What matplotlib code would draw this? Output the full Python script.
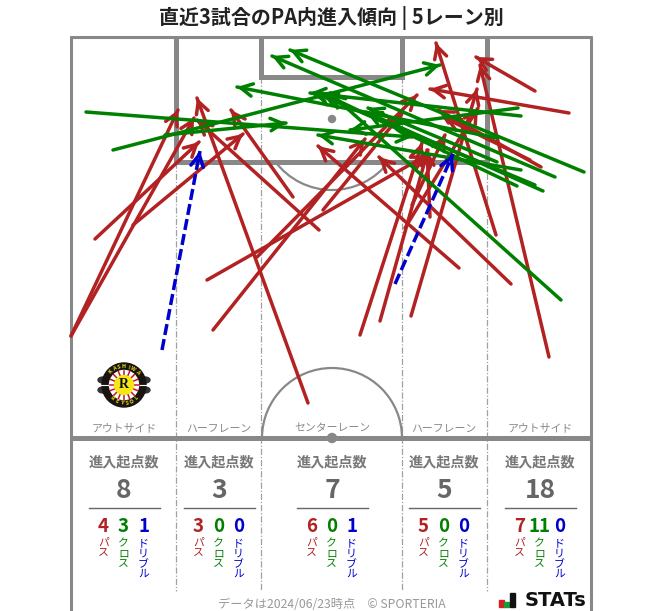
import numpy as np
import matplotlib
matplotlib.use("Agg")
import matplotlib.pyplot as plt
from matplotlib.patches import Arc, Circle, Ellipse, Rectangle

plt.rcParams["font.family"] = ["Noto Sans CJK JP", "DejaVu Sans"]

# arrows: start x, start y, end x, end y (in pixels)
PASS_ARROWS = [
    (71, 336, 178, 110), (71, 336, 194, 118), (95, 239, 199, 142), (133, 225, 243, 134),
    (207, 280, 427, 155), (213, 330, 365, 139), (257, 257, 417, 95),
    (308, 403, 197, 98), (319, 230, 197, 120), (293, 197, 231, 110), (323, 210, 403, 112),
    (360, 335, 422, 143), (380, 321, 428, 150),
    (411, 316, 477, 89), (459, 268, 318, 146), (430, 217, 427, 150), (405, 228, 478, 108),
    (412, 205, 445, 135),
    (549, 357, 480, 65), (535, 91, 476, 57), (569, 113, 430, 89), (496, 235, 436, 43),
    (541, 167, 438, 110), (511, 284, 379, 157), (530, 160, 445, 118),
]
CROSS_ARROWS = [
    (86, 112, 412, 137), (113, 150, 440, 65), (165, 135, 286, 123),
    (584, 172, 290, 50), (555, 177, 272, 56), (561, 300, 330, 93), (543, 191, 366, 112),
    (517, 186, 322, 93), (521, 170, 318, 135), (521, 116, 310, 93), (518, 108, 350, 130),
    (497, 162, 368, 108), (497, 138, 237, 87), (535, 185, 315, 93),
]
DRIBBLE_ARROWS = [(162, 350, 200, 151), (395, 284, 453, 154)]

ZONE_CENTERS = [124, 219, 332, 444, 540]
ZONE_NAMES = ["アウトサイド", "ハーフレーン", "センターレーン", "ハーフレーン", "アウトサイド"]
ZONE_TOTALS = [8, 3, 7, 5, 18]
ZONE_PASS = [4, 3, 6, 5, 7]
ZONE_CROSS = [3, 0, 0, 0, 11]
ZONE_DRIBBLE = [1, 0, 1, 0, 0]

RED = "#b22222"
GREEN = "#008000"
BLUE = "#0000cd"
GRAY = "#888888"

fig = plt.figure(figsize=(6.63, 6.11), dpi=100)
ax = fig.add_axes([0, 0, 1, 1])
ax.set_xlim(0, 663)
ax.set_ylim(611, 0)
ax.axis("off")


def draw_arrow(x0, y0, x1, y1, color, dashed=False):
    ax.plot([x0, x1], [y0, y1], color=color, lw=2.5, zorder=5,
            linestyle=(0, (3.2, 1.2)) if dashed else "-",
            solid_capstyle="round", dash_capstyle="butt")
    ax.annotate("", xy=(x1, y1), xytext=(x1 + (x0 - x1) * 0.02, y1 + (y0 - y1) * 0.02),
                arrowprops=dict(arrowstyle="->,head_length=0.85,head_width=0.45",
                                color=color, lw=2.5, shrinkA=0, shrinkB=0,
                                mutation_scale=10),
                zorder=5)


# pitch
pitch_line = dict(color=GRAY, zorder=2, solid_capstyle="butt")
ax.plot([71, 71], [36, 611], lw=2.2, **pitch_line)
ax.plot([591, 591], [36, 611], lw=2.2, **pitch_line)
ax.plot([70, 592], [37, 37], lw=2.2, **pitch_line)
ax.plot([71, 591], [438, 438], lw=3.6, **pitch_line)
ax.plot([176, 176, 487, 487], [37, 162, 162, 37], lw=3.6, solid_joinstyle="miter", **pitch_line)
ax.plot([261, 261, 402, 402], [37, 77, 77, 37], lw=3.6, solid_joinstyle="miter", **pitch_line)
ax.add_patch(Arc((332, 119), 142, 142, theta1=37, theta2=143, color=GRAY, lw=1.6, zorder=2))
ax.add_patch(Arc((332, 438), 140, 140, theta1=180, theta2=360, color=GRAY, lw=1.6, zorder=2))
ax.add_patch(Circle((332, 119), 3.5, color=GRAY, zorder=2))
ax.add_patch(Circle((332, 438), 4.5, color=GRAY, zorder=2))

# lanes
for x, top in zip([176, 261, 402, 487], [162, 77, 77, 162]):
    ax.plot([x, x], [top, 591], color="#a0a0a0", lw=0.9, linestyle=(0, (5, 1.5, 1, 1.5)), zorder=1)

for x0, y0, x1, y1 in PASS_ARROWS:
    draw_arrow(x0, y0, x1, y1, RED)
for x0, y0, x1, y1 in CROSS_ARROWS:
    draw_arrow(x0, y0, x1, y1, GREEN)
for x0, y0, x1, y1 in DRIBBLE_ARROWS:
    draw_arrow(x0, y0, x1, y1, BLUE, dashed=True)

ax.text(331, 18, "直近3試合のPA内進入傾向 | 5レーン別", ha="center", va="center",
        fontsize=14.4, fontweight="bold", color="#222222")

# zone stats
for i, cx in enumerate(ZONE_CENTERS):
    ax.text(cx, 428.5, ZONE_NAMES[i], ha="center", va="center", fontsize=7.8, color="#888888", zorder=6)
    ax.text(cx, 462, "進入起点数", ha="center", va="center", fontsize=10.2, fontweight="bold", color="#777777")
    ax.text(cx, 491, str(ZONE_TOTALS[i]), ha="center", va="center", fontsize=19, fontweight="bold", color="#666666")
    ax.plot([cx - 35.5, cx + 35.5], [508, 508], color="#666666", lw=1.0)
    columns = zip([-20.5, -0.5, 19.5], [ZONE_PASS[i], ZONE_CROSS[i], ZONE_DRIBBLE[i]],
                  [RED, GREEN, BLUE], ["パス", "クロス", "ドリブル"])
    for dx, value, color, word in columns:
        ax.text(cx + dx, 526.5, str(value), ha="center", va="center", fontsize=13.5,
                fontweight="bold", color=color)
        for k, ch in enumerate(word):
            ax.text(cx + dx, 543 + k * 10.4, ch, ha="center", va="center", fontsize=7.8, color=color)

ax.text(332, 604, "データは2024/06/23時点　© SPORTERIA", ha="center", va="center", fontsize=8.8, color="#999999")

# STATs logo
ax.add_patch(Rectangle((499, 600), 4.5, 7, color="#d62020"))
ax.add_patch(Rectangle((504, 602), 4.5, 5, color="#1a9a3a"))
ax.add_patch(Rectangle((510, 593), 5, 14, color="#111111"))
ax.text(525, 600, "STATs", ha="left", va="center", fontsize=14, fontweight="bold",
        family=["DejaVu Sans"], color="#111111")

# club crest
cx, cy = 124, 385
for sx in (-1, 1):
    for sy in (-5, 5):
        ax.add_patch(Ellipse((cx + sx * 21, cy + sy), 10, 6, color="#333333", zorder=3))
ax.add_patch(Circle((cx, cy), 22, color="#1a1410", zorder=3))
ax.add_patch(Circle((cx, cy), 14.5, color="white", zorder=3))
for a in np.arange(0, 360, 22.5):
    r = np.radians(a)
    ax.plot([cx + 9 * np.cos(r), cx + 14.5 * np.cos(r)], [cy + 9 * np.sin(r), cy + 14.5 * np.sin(r)],
            color="#c8102e", lw=1.1, zorder=4)
ax.plot([cx - 26, cx + 26], [cy, cy], color="white", lw=0.8, zorder=3)
ax.add_patch(Circle((cx, cy), 9.5, color="#f5e616", zorder=4))
ax.text(cx, cy - 0.5, "R", ha="center", va="center", fontsize=10, fontweight="bold",
        family=["Liberation Serif"], color="#111111", zorder=5)
for word, start, step in [("KASHIWA", 225, 15), ("REYSOL", 132, -17)]:
    for k, ch in enumerate(word):
        a = np.radians(start + k * step)
        rot = -(start + k * step) - 90 if step > 0 else -(start + k * step) + 90
        ax.text(cx + 18.2 * np.cos(a), cy + 18.2 * np.sin(a), ch, ha="center", va="center",
                fontsize=3.8, fontweight="bold", color="#f5e616", rotation=rot, zorder=5)

fig.savefig("out.png", dpi=100)
